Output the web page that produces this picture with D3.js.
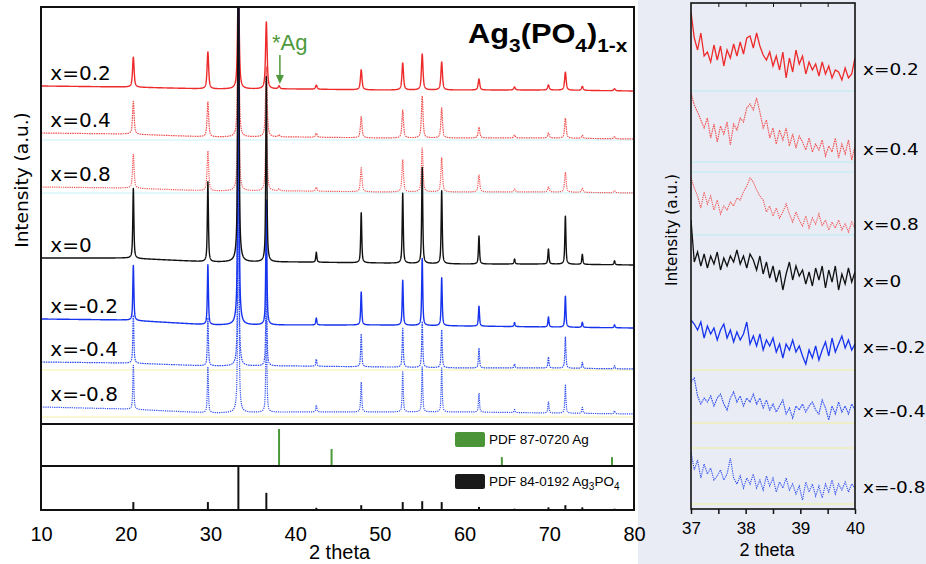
<!DOCTYPE html>
<html><head><meta charset="utf-8">
<script src="https://cdn.jsdelivr.net/npm/d3@7"></script>
<style>body{margin:0;background:#fff}svg{display:block}</style>
</head><body>
<svg id="c" width="926" height="564"></svg>
<script>
// ---------------- DATA ----------------
const samples = ["x=0.2", "x=0.4", "x=0.8", "x=0", "x=-0.2", "x=-0.4", "x=-0.8"];
const peakPositions = [20.9, 29.7, 33.3, 36.6, 38.1, 42.5, 47.8, 52.7, 55.0, 57.3, 61.7, 65.9, 69.9, 71.9, 73.9, 77.7];
// peak intensities (a.u.) per sample, same order as peakPositions
const peaks_p02 = [30, 37, 115, 67, 3, 4, 20, 27, 36, 28, 11, 3, 5, 18, 4, 2];
const peaks_p04 = [33, 35, 120, 70, 2, 4, 21, 28, 42, 30, 11, 3, 5, 20, 3, 2];
const peaks_p08 = [34, 40, 130, 75, 2, 4, 24, 32, 44, 34, 17, 3, 5, 20, 4, 2];
const peaks_0   = [70, 80, 450, 185, 0, 10, 50, 70, 96, 73, 28, 5, 15, 48, 10, 4];
const peaks_m02 = [55, 60, 450, 125, 0, 7, 33, 45, 67, 48, 20, 4, 10, 31, 5, 3];
const peaks_m04 = [48, 48, 300, 95, 0, 7, 33, 39, 46, 38, 20, 4, 11, 31, 6, 3];
const peaks_m08 = [44, 46, 300, 95, 0, 7, 30, 40, 45, 44, 19, 3, 11, 28, 6, 3];
// stacked baselines (a.u., with offsets) at these 2-theta values
const baselineTheta = [10, 20, 30, 40, 50, 60, 70, 80];
const base_p02 = [338, 337, 335, 335, 334, 334, 334, 333];
const base_p04 = [291, 290, 287, 287, 286, 286, 286, 285];
const base_p08 = [237, 236, 233, 233, 232, 232, 232, 231];
const base_0   = [166, 166, 162, 162, 161, 160, 160, 159];
const base_m02 = [105, 104, 99, 99, 99, 98, 97, 96];
const base_m04 = [62, 61, 58, 58, 57, 56, 56, 55];
const base_m08 = [17, 15, 11, 12, 12, 12, 11, 10];
const mainGuidesCyan = [284, 231];
const mainGuidesYellow = [54, 7];

// reference patterns
const agRefTheta = [38.1, 44.3, 64.4, 77.4];
const agRefI = [100, 46, 24, 24];
const apRefTheta = [20.9, 29.7, 33.3, 36.6, 42.5, 47.8, 52.7, 55.0, 57.3, 61.7, 65.9, 69.9, 71.9, 73.9, 77.7];
const apRefI = [18, 18, 100, 39, 5, 11, 18, 20, 18, 7, 3, 6, 11, 6, 3];
const refLegend = ["PDF 87-0720 Ag", "PDF 84-0192 Ag3PO4"];
const mainTicks = [10, 20, 30, 40, 50, 60, 70, 80];

// inset 37-40 deg, evenly spaced readings
const inset_p02 = [497,471,459,476,453,457,447,464,449,463,443,459,451,465,453,467,455,471,473,461,476,463,454,449,457,443,453,439,457,431,451,437,459,445,453,435,447,439,445,433,447,435,443,431,439,437,429,441,431,435,451];
const inset_p04 = [416,404,397,389,381,391,371,385,367,383,375,387,364,385,379,391,387,401,405,399,411,397,381,389,371,381,365,379,369,381,363,375,361,373,367,359,371,357,365,359,369,353,363,357,371,351,365,355,369,349,363];
const inset_p08 = [331,321,313,301,317,305,313,299,309,295,303,299,307,303,311,309,317,323,331,327,319,313,309,297,303,293,301,291,297,305,295,287,297,289,283,293,281,291,285,295,283,289,279,287,281,289,279,285,277,287,281];
const inset_0   = [289,247,257,243,255,241,253,245,257,239,251,243,253,247,259,245,253,241,255,249,239,253,235,247,231,243,227,239,219,235,247,229,243,233,239,225,237,223,241,229,243,221,239,227,243,219,235,225,241,227,237];
const inset_m02 = [189,185,179,187,171,183,175,181,169,179,185,171,179,167,177,169,175,187,165,173,163,175,159,169,163,171,157,165,151,165,159,169,157,163,153,145,159,151,163,149,159,167,153,171,157,165,173,161,169,159,165];
const inset_m04 = [127,131,113,105,111,107,113,103,111,115,105,99,111,117,107,113,103,111,107,115,105,111,101,109,99,105,97,103,109,95,101,91,103,99,105,97,103,107,99,95,109,101,89,103,95,107,97,103,95,105,99];
const inset_m08 = [57,39,49,31,45,35,41,29,33,39,29,35,51,31,25,33,21,31,25,35,21,29,19,33,23,31,17,27,21,31,19,25,15,23,9,27,17,25,13,23,11,25,17,29,15,25,19,27,17,25,21];
const insetGuidesCyan = [418, 347, 337, 274];
const insetGuidesYellow = [139, 86, 61, 5];
const insetTicks = [37, 37.5, 38, 38.5, 39, 39.5, 40];

// ---------------- DRAW ----------------
const svg = d3.select("#c");
const RED = "#ee2b2b", RED2 = "#f25252", BLK = "#111", BLU = "#1633ee", BLU2 = "#2d4cf2";
const series = [
  {name: samples[0], peaks: peaks_p02, base: base_p02, inset: inset_p02, color: RED, dash: null, w: 0.11},
  {name: samples[1], peaks: peaks_p04, base: base_p04, inset: inset_p04, color: RED2, dash: "1.6,0.8", w: 0.11},
  {name: samples[2], peaks: peaks_p08, base: base_p08, inset: inset_p08, color: RED2, dash: "1.2,1", w: 0.11},
  {name: samples[3], peaks: peaks_0, base: base_0, inset: inset_0, color: BLK, dash: null, w: 0.075},
  {name: samples[4], peaks: peaks_m02, base: base_m02, inset: inset_m02, color: BLU, dash: null, w: 0.075},
  {name: samples[5], peaks: peaks_m04, base: base_m04, inset: inset_m04, color: BLU2, dash: "1.6,0.8", w: 0.075},
  {name: samples[6], peaks: peaks_m08, base: base_m08, inset: inset_m08, color: BLU2, dash: "1.2,1", w: 0.075}
];

// background tint on the right side
svg.append("rect").attr("x", 638).attr("y", 0).attr("width", 288).attr("height", 564).attr("fill", "#e9ecf5");

const L = 41, R = 634, T = 7, B = 424, B2 = 466, B3 = 510;
const x = d3.scaleLinear().domain([10, 80]).range([L, R]);
const y = d3.scaleLinear().domain([0, 417]).range([B, T]);

svg.append("defs").append("clipPath").attr("id", "mainclip")
  .append("rect").attr("x", L).attr("y", T).attr("width", R - L).attr("height", B - T);

const gMain = svg.append("g").attr("clip-path", "url(#mainclip)");
gMain.append("rect").attr("x", L).attr("y", T).attr("width", R - L).attr("height", B - T).attr("fill", "#fff");
mainGuidesCyan.forEach(v => gMain.append("line").attr("x1", L).attr("x2", R).attr("y1", y(v)).attr("y2", y(v)).attr("stroke", "#c8f1f6").attr("stroke-width", 1.2));
mainGuidesYellow.forEach(v => gMain.append("line").attr("x1", L).attr("x2", R).attr("y1", y(v)).attr("y2", y(v)).attr("stroke", "#f3f1a8").attr("stroke-width", 1.2));

const grid = d3.range(10, 80.0001, 0.01);
function pattern(s) {
  const bl = d3.scaleLinear().domain(baselineTheta).range(s.base);
  return grid.map(t => {
    let v = bl(t);
    for (let i = 0; i < peakPositions.length; i++) {
      const h = s.peaks[i]; if (!h) continue;
      const d = (t - peakPositions[i]) / s.w;
      v += h * (0.7 / (1 + d * d) + 0.3 * Math.exp(-0.6931 * d * d));
    }
    return [t, v];
  });
}
const line = d3.line().x(d => x(d[0])).y(d => y(d[1]));
const drawOrder = [2, 1, 0, 6, 5, 4, 3];
drawOrder.forEach(i => {
  const s = series[i];
  gMain.append("path").datum(pattern(s)).attr("d", line).attr("fill", "none")
    .attr("stroke", s.color).attr("stroke-width", s.dash ? 1.2 : 1.4)
    .attr("stroke-dasharray", s.dash).attr("stroke-linejoin", "round");
});

// sample labels
series.forEach(s => {
  svg.append("text").attr("x", x(11.1)).attr("y", y(s.base[0]) - 6)
    .attr("font-family", "DejaVu Sans").attr("font-size", 20).attr("fill", "#000").text(s.name);
});

// *Ag annotation
const agX = x(38.2);
svg.append("text").attr("x", agX - 8).attr("y", 50).attr("font-family", "Liberation Sans, Arial")
  .attr("font-size", 22).attr("fill", "#4e9a3c").text("*Ag");
svg.append("line").attr("x1", agX).attr("x2", agX).attr("y1", 55).attr("y2", y(base_p02[2] + 5) - 6)
  .attr("stroke", "#4e9a3c").attr("stroke-width", 1.5);
svg.append("path").attr("d", `M${agX - 4},${y(base_p02[2] + 5) - 9}L${agX + 4},${y(base_p02[2] + 5) - 9}L${agX},${y(base_p02[2] + 5)}Z`).attr("fill", "#4e9a3c");

// title
const title = svg.append("text").attr("x", 0).attr("y", 0).attr("font-family", "Liberation Sans, Arial")
  .attr("font-weight", "bold").attr("font-size", 28).attr("fill", "#000");
title.append("tspan").text("Ag");
title.append("tspan").attr("font-size", 19).attr("dy", 9).text("3");
title.append("tspan").attr("dy", -9).text("(PO");
title.append("tspan").attr("font-size", 19).attr("dy", 9).text("4");
title.append("tspan").attr("dy", -9).text(")");
title.append("tspan").attr("font-size", 19).attr("dy", 9).text("1-x");
const tw = title.node().getBBox().width;
title.attr("transform", `translate(468,43) scale(${160 / tw},1)`);

// reference panels
const yAg = d3.scaleLinear().domain([0, 100]).range([B2, B + 5]);
const yAp = d3.scaleLinear().domain([0, 100]).range([B3, B2]);
svg.selectAll(".agref").data(agRefTheta).enter().append("line")
  .attr("x1", d => x(d)).attr("x2", d => x(d)).attr("y1", yAg(0)).attr("y2", (d, i) => yAg(agRefI[i]))
  .attr("stroke", "#4b9a3a").attr("stroke-width", 2);
svg.selectAll(".apref").data(apRefTheta).enter().append("line")
  .attr("x1", d => x(d)).attr("x2", d => x(d)).attr("y1", yAp(0)).attr("y2", (d, i) => yAp(apRefI[i]))
  .attr("stroke", "#111").attr("stroke-width", 2);

// legends
svg.append("rect").attr("x", 455).attr("y", 432).attr("width", 30).attr("height", 15).attr("rx", 2).attr("fill", "#4b9438");
svg.append("text").attr("x", 489).attr("y", 444).attr("font-family", "Liberation Sans, Arial").attr("font-size", 13.5).text(refLegend[0]);
svg.append("rect").attr("x", 455).attr("y", 474).attr("width", 30).attr("height", 15).attr("rx", 2).attr("fill", "#1a1a1a");
const lg2 = svg.append("text").attr("x", 489).attr("y", 486).attr("font-family", "Liberation Sans, Arial").attr("font-size", 13.5);
lg2.append("tspan").text("PDF 84-0192 Ag");
lg2.append("tspan").attr("font-size", 10).attr("dy", 4).text("3");
lg2.append("tspan").attr("dy", -4).text("PO");
lg2.append("tspan").attr("font-size", 10).attr("dy", 4).text("4");

// frames
[[T, B], [B, B2], [B2, B3]].forEach(([a, b]) => svg.append("rect").attr("x", L).attr("y", a).attr("width", R - L).attr("height", b - a)
  .attr("fill", "none").attr("stroke", "#111").attr("stroke-width", 2));

// x axis
const ax = svg.append("g").attr("transform", `translate(0,${B3})`)
  .call(d3.axisBottom(x).tickValues(mainTicks).tickSize(0).tickPadding(17));
ax.select(".domain").remove();
ax.selectAll("text").attr("font-family", "Liberation Sans, Arial").attr("font-size", 20).attr("fill", "#000");
svg.append("text").attr("x", (L + R) / 2 + 2).attr("y", 559).attr("text-anchor", "middle")
  .attr("font-family", "Liberation Sans, Arial").attr("font-size", 20).text("2 theta");
svg.append("text").attr("transform", `translate(28,180) rotate(-90)`).attr("text-anchor", "middle")
  .attr("font-family", "DejaVu Sans").attr("font-size", 18.5).text("Intensity (a.u.)");

// ---------------- INSET ----------------
const iL = 691, iR = 855, iT = 3, iB = 509;
const xi = d3.scaleLinear().domain([37, 40]).range([iL, iR]);
const yi = d3.scaleLinear().domain([0, 506]).range([iB, iT]);
svg.append("defs").append("clipPath").attr("id", "iclip")
  .append("rect").attr("x", iL).attr("y", iT).attr("width", iR - iL).attr("height", iB - iT);
const gI = svg.append("g").attr("clip-path", "url(#iclip)");
insetGuidesCyan.forEach(v => gI.append("line").attr("x1", iL).attr("x2", iR).attr("y1", yi(v)).attr("y2", yi(v)).attr("stroke", "#b9ecf2").attr("stroke-width", 1.2));
insetGuidesYellow.forEach(v => gI.append("line").attr("x1", iL).attr("x2", iR).attr("y1", yi(v)).attr("y2", yi(v)).attr("stroke", "#f1ee9c").attr("stroke-width", 1.2));
const iline = d3.line().x((d, i, arr) => xi(37 + 3 * i / (arr.length - 1))).y(d => yi(d));
series.forEach(s => {
  gI.append("path").datum(s.inset).attr("d", iline).attr("fill", "none")
    .attr("stroke", s.color).attr("stroke-width", s.dash ? 1.1 : 1.3).attr("stroke-dasharray", s.dash);
});
const insetLabelY = [75, 155, 230, 287, 353, 417, 493];
series.forEach((s, i) => {
  svg.append("text").attr("transform", `translate(863,${insetLabelY[i]}) scale(1.12,1)`)
    .attr("font-family", "DejaVu Sans").attr("font-size", 16.5).text(s.name);
});
svg.append("rect").attr("x", iL).attr("y", iT).attr("width", iR - iL).attr("height", iB - iT)
  .attr("fill", "none").attr("stroke", "#111").attr("stroke-width", 1.6);
const axi = svg.append("g").attr("transform", `translate(0,${iB})`)
  .call(d3.axisBottom(xi).tickValues(insetTicks).tickSize(5).tickPadding(8).tickFormat(d => Number.isInteger(d) ? d : ""));
axi.select(".domain").remove();
axi.selectAll("line").attr("stroke", "#111").attr("stroke-width", 1.5);
axi.selectAll("text").attr("font-family", "Liberation Sans, Arial").attr("font-size", 17).attr("fill", "#000");
const axt = svg.append("g").attr("transform", `translate(0,${iT})`)
  .call(d3.axisTop(xi).tickValues(insetTicks.slice(1, -1)).tickSize(-4).tickFormat(""));
axt.select(".domain").remove();
axt.selectAll("line").attr("stroke", "#111");
svg.append("text").attr("x", 767).attr("y", 556).attr("text-anchor", "middle")
  .attr("font-family", "Liberation Sans, Arial").attr("font-size", 18).text("2 theta");
svg.append("text").attr("transform", `translate(677,230) rotate(-90)`).attr("text-anchor", "middle")
  .attr("font-family", "DejaVu Sans").attr("font-size", 15.3).text("Intensity (a.u.)");
</script>
</body></html>
